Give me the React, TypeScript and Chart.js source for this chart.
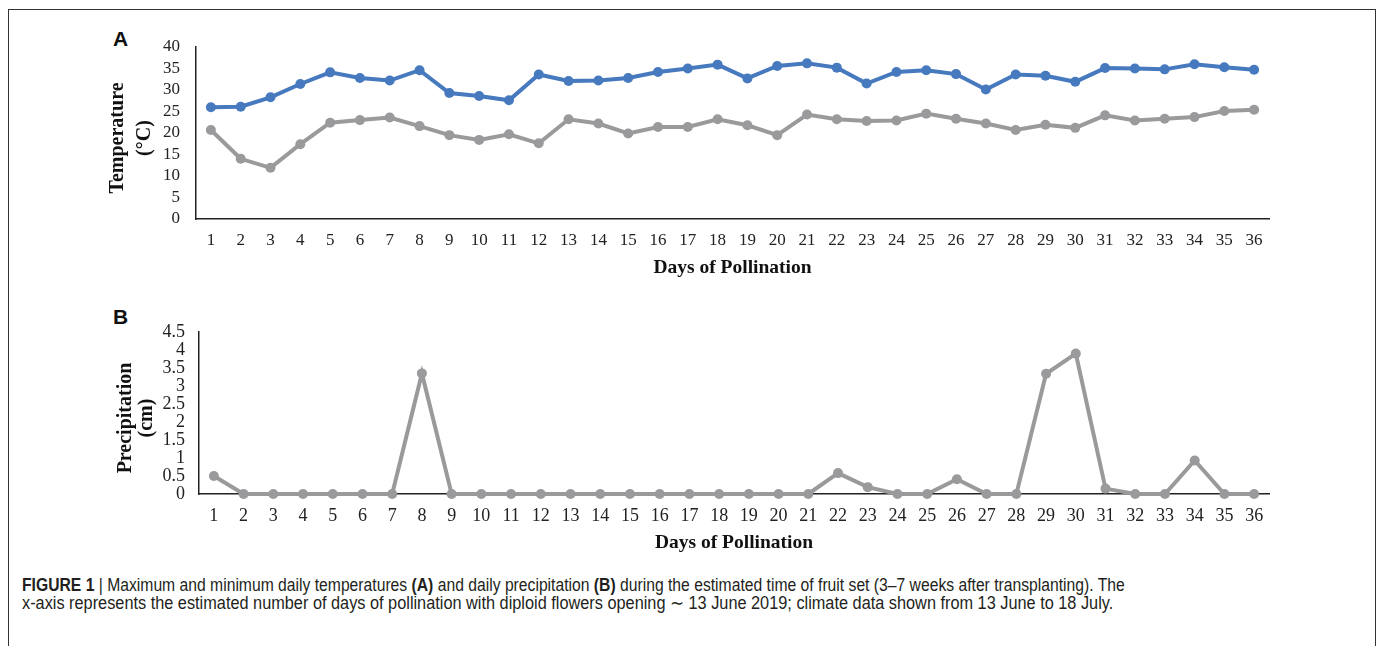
import React, { useEffect, useLayoutEffect, useRef } from "react";
import { Chart, registerables } from "chart.js";

Chart.register(...registerables);

const days = ["1","2","3","4","5","6","7","8","9","10","11","12","13","14","15","16","17","18","19","20","21","22","23","24","25","26","27","28","29","30","31","32","33","34","35","36"];

const maxTemp = [26.0, 26.1, 28.3, 31.4, 34.1, 32.8, 32.2, 34.6, 29.3, 28.6, 27.6, 33.6, 32.1, 32.2, 32.8, 34.2, 35.0, 35.9, 32.7, 35.6, 36.2, 35.2, 31.5, 34.2, 34.6, 33.7, 30.1, 33.6, 33.3, 31.9, 35.1, 35.0, 34.8, 36.0, 35.3, 34.7];

const minTemp = [20.7, 14.0, 11.9, 17.4, 22.4, 23.0, 23.6, 21.6, 19.5, 18.4, 19.7, 17.6, 23.2, 22.2, 19.9, 21.4, 21.4, 23.2, 21.8, 19.5, 24.3, 23.2, 22.8, 22.9, 24.5, 23.3, 22.2, 20.7, 21.9, 21.2, 24.1, 22.9, 23.3, 23.7, 25.1, 25.4];

const precip = [0.5, 0, 0, 0, 0, 0, 0, 3.35, 0, 0, 0, 0, 0, 0, 0, 0, 0, 0, 0, 0, 0, 0.58, 0.19, 0, 0, 0.41, 0, 0, 3.34, 3.9, 0.15, 0, 0, 0.93, 0, 0];

const NB = "\u00A0\u00A0";
const tempTitle = ["Temperature" + NB, "(\u00B0C)" + NB];
const precipTitle = ["Precipitation" + NB, "(cm)" + NB];
const xTitle = "Days of Pollination";

const BLUE = "#4679BE";
const GREY = "#9A9A9C";
const SERIF = "'Liberation Serif', 'Times New Roman', serif";

function lineDs(data: number[], color: string) {
  return {
    data,
    borderColor: color,
    backgroundColor: color,
    pointBackgroundColor: color,
    pointBorderColor: color,
    borderWidth: 4,
    pointRadius: 5,
    pointBorderWidth: 0,
    tension: 0,
    clip: false as const,
  };
}

interface PanelOpts {
  datasets: any[];
  yMax: number;
  yStep: number;
  yTitle: string[];
  yTitleLH: number;
  yTitlePad: number;
  yWidth: number;
  yTickPad: number;
  tickSize: number;
  padTop: number;
  padBottom: number;
  xHeight: number;
  xTickPad: number;
}

function ChartPanel({ o, style }: { o: PanelOpts; style: React.CSSProperties }) {
  const ref = useRef<HTMLCanvasElement>(null);
  useEffect(() => {
    if (!ref.current) return;
    const chart = new Chart(ref.current, {
      type: "line",
      data: { labels: days, datasets: o.datasets },
      options: {
        animation: false,
        responsive: false,
        maintainAspectRatio: false,
        layout: { padding: { left: 0, right: 31, top: o.padTop, bottom: o.padBottom } },
        plugins: { legend: { display: false }, tooltip: { enabled: false } },
        scales: {
          x: {
            offset: true,
            grid: { display: false, drawTicks: false },
            border: { display: true, color: "#222", width: 1.5 },
            ticks: {
              color: "#222",
              font: { family: SERIF, size: o.tickSize },
              padding: o.xTickPad,
              maxRotation: 0,
              autoSkip: false,
            },
            title: {
              display: true,
              text: xTitle,
              color: "#111",
              font: { family: SERIF, size: 19.5, weight: "bold" },
              padding: { top: 0, bottom: 0 },
            },
            afterFit: (s: any) => {
              s.height = o.xHeight;
            },
          },
          y: {
            min: 0,
            max: o.yMax,
            grid: { display: false, drawTicks: false },
            border: { display: true, color: "#222", width: 1.5 },
            ticks: {
              stepSize: o.yStep,
              autoSkip: false,
              color: "#222",
              font: { family: SERIF, size: o.tickSize },
              padding: o.yTickPad,
              callback: (v: any) => String(v),
            },
            title: {
              display: true,
              text: o.yTitle,
              color: "#111",
              font: { family: SERIF, size: 20, weight: "bold", lineHeight: o.yTitleLH },
              padding: { top: o.yTitlePad, bottom: 0 },
            },
            afterFit: (s: any) => {
              s.width = o.yWidth;
              s.paddingTop = 0;
              s.paddingBottom = 0;
            },
          },
        },
      } as any,
    });
    return () => chart.destroy();
  }, []);
  return (
    <div style={style}>
      <canvas ref={ref} width={1200} height={260} style={{ width: 1200, height: 260, display: "block" }} />
    </div>
  );
}

const panelA: PanelOpts = {
  datasets: [lineDs(maxTemp, BLUE), lineDs(minTemp, GREY)],
  yMax: 40,
  yStep: 5,
  yTitle: tempTitle,
  yTitleLH: 27 / 20,
  yTitlePad: 4.5,
  yWidth: 96,
  yTickPad: 16,
  tickSize: 17,
  padTop: 17,
  padBottom: 10,
  xHeight: 61,
  xTickPad: 11,
};

const panelB: PanelOpts = {
  datasets: [lineDs(precip, GREY)],
  yMax: 4.5,
  yStep: 0.5,
  yTitle: precipTitle,
  yTitleLH: 21 / 20,
  yTitlePad: 15.5,
  yWidth: 99,
  yTickPad: 14,
  tickSize: 18,
  padTop: 32,
  padBottom: 5,
  xHeight: 61,
  xTickPad: 11,
};

const capFont = "'Liberation Sans Narrow', 'Arial Narrow', 'Liberation Sans', Arial, sans-serif";

function FitLine({ width, top, children }: { width: number; top: number; children: React.ReactNode }) {
  const ref = useRef<HTMLDivElement>(null);
  useLayoutEffect(() => {
    const el = ref.current;
    if (!el) return;
    el.style.transform = "none";
    const w = el.scrollWidth;
    if (w > 0) el.style.transform = `scaleX(${width / w})`;
  }, [width]);
  return (
    <div
      ref={ref}
      style={{
        position: "absolute",
        left: 22,
        top,
        fontFamily: capFont,
        fontSize: 17.5,
        lineHeight: "18px",
        color: "#231f20",
        whiteSpace: "nowrap",
        transformOrigin: "0 0",
        display: "inline-block",
      }}
    >
      {children}
    </div>
  );
}

export default function App() {
  return (
    <div style={{ position: "fixed", left: 0, top: 0, width: 1379, height: 646, overflow: "hidden", background: "#fff" }}>
      <div style={{ position: "absolute", left: 8, top: 9, width: 1368, height: 700, border: "1.5px solid #333", boxSizing: "border-box" }} />
      <div style={{ position: "absolute", left: 113, top: 27, fontFamily: "'Liberation Sans', Arial, sans-serif", fontWeight: "bold", fontSize: 21, color: "#111" }}>A</div>
      <div style={{ position: "absolute", left: 113, top: 305, fontFamily: "'Liberation Sans', Arial, sans-serif", fontWeight: "bold", fontSize: 21, color: "#111" }}>B</div>
      <ChartPanel o={panelA} style={{ position: "absolute", left: 100, top: 30 }} />
      <ChartPanel o={panelB} style={{ position: "absolute", left: 100, top: 300 }} />
      <FitLine width={1103} top={576}>
        <b>FIGURE 1</b> | Maximum and minimum daily temperatures <b>(A)</b> and daily precipitation <b>(B)</b> during the estimated time of fruit set (3–7 weeks after transplanting). The
      </FitLine>
      <FitLine width={1091} top={594}>
        x-axis represents the estimated number of days of pollination with diploid flowers opening ∼ 13 June 2019; climate data shown from 13 June to 18 July.
      </FitLine>
    </div>
  );
}
